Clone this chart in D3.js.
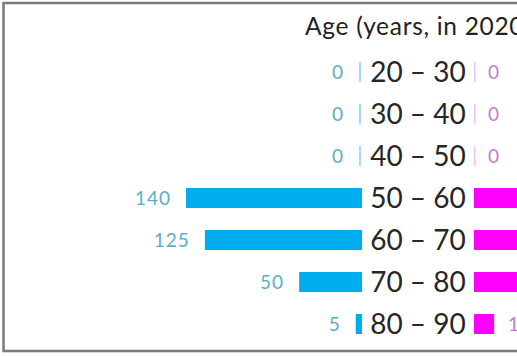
<!DOCTYPE html>
<html>
<head>
<meta charset="utf-8">
<script src="https://cdn.jsdelivr.net/npm/d3@7"></script>
<style>
  html, body { margin: 0; padding: 0; background: #fff; }
  svg { display: block; font-family: Lato, "Open Sans", sans-serif; }
</style>
</head>
<body>
<script>
  // age groups and counts (right side is cut off in the source picture)
  const ages = ["20 – 30", "30 – 40", "40 – 50", "50 – 60", "60 – 70", "70 – 80", "80 – 90"];
  const leftValues = [0, 0, 0, 140, 125, 50, 5];
  const rightValues = [0, 0, 0, 130, 115, 60, 16];
  const title = "Age (years, in 2020)";

  const w = 517;
  const h = 356;

  const svg = d3.select("body")
    .append("svg")
    .attr("width", w)
    .attr("height", h);

  // frame
  svg.append("rect")
    .attr("x", 3.5)
    .attr("y", 3)
    .attr("width", w + 20)
    .attr("height", 348)
    .attr("fill", "none")
    .attr("stroke", "#7a7a7a")
    .attr("stroke-width", 2.5);

  const yScale = d3.scaleBand()
    .domain(ages)
    .range([51, 345])
    .paddingInner(0.524)
    .paddingOuter(0.262);

  const xLeft = d3.scaleLinear()
    .domain([0, 140])
    .range([362, 186]);

  const xRight = d3.scaleLinear()
    .domain([0, 140])
    .range([474, 650]);

  const rows = ages.map((a, i) => ({ age: a, l: leftValues[i], r: rightValues[i] }));

  // left bars
  svg.selectAll("rect.left")
    .data(rows)
    .enter()
    .append("rect")
    .attr("class", "left")
    .attr("x", (d) => d.l > 0 ? xLeft(d.l) : 359)
    .attr("y", (d) => yScale(d.age))
    .attr("width", (d) => d.l > 0 ? xLeft(0) - xLeft(d.l) : 2)
    .attr("height", yScale.bandwidth())
    .attr("fill", (d) => d.l > 0 ? "#00aeef" : "#a6dcec");

  // right bars
  svg.selectAll("rect.right")
    .data(rows)
    .enter()
    .append("rect")
    .attr("class", "right")
    .attr("x", xRight(0))
    .attr("y", (d) => yScale(d.age))
    .attr("width", (d) => d.r > 0 ? xRight(d.r) - xRight(0) : 1.5)
    .attr("height", yScale.bandwidth())
    .attr("fill", (d) => d.r > 0 ? "#ff00ff" : "#f2c4f2");

  // value labels
  svg.selectAll("text.lval")
    .data(rows)
    .enter()
    .append("text")
    .attr("class", "lval")
    .text((d) => d.l)
    .attr("x", (d) => (d.l > 0 ? xLeft(d.l) : 359) - 15)
    .attr("y", (d) => yScale(d.age) + yScale.bandwidth() / 2)
    .attr("dy", "0.36em")
    .attr("text-anchor", "end")
    .attr("font-size", 19)
    .attr("letter-spacing", 1)
    .attr("fill", "#5aaecb");

  svg.selectAll("text.rval")
    .data(rows)
    .enter()
    .append("text")
    .attr("class", "rval")
    .text((d) => d.r)
    .attr("x", (d) => xRight(d.r) + 14)
    .attr("y", (d) => yScale(d.age) + yScale.bandwidth() / 2)
    .attr("dy", "0.36em")
    .attr("text-anchor", "start")
    .attr("font-size", 19)
    .attr("letter-spacing", 1)
    .attr("fill", "#c77ad8");

  // age labels
  svg.selectAll("text.age")
    .data(rows)
    .enter()
    .append("text")
    .attr("class", "age")
    .text((d) => d.age)
    .attr("x", 418)
    .attr("y", (d) => yScale(d.age) + yScale.bandwidth() / 2)
    .attr("dy", "0.36em")
    .attr("text-anchor", "middle")
    .attr("font-size", 28)
    .attr("fill", "#262626");

  svg.append("text")
    .text(title)
    .attr("x", 305)
    .attr("y", 35)
    .attr("font-size", 24.5)
    .attr("letter-spacing", 0.7)
    .attr("fill", "#222");
</script>
</body>
</html>
